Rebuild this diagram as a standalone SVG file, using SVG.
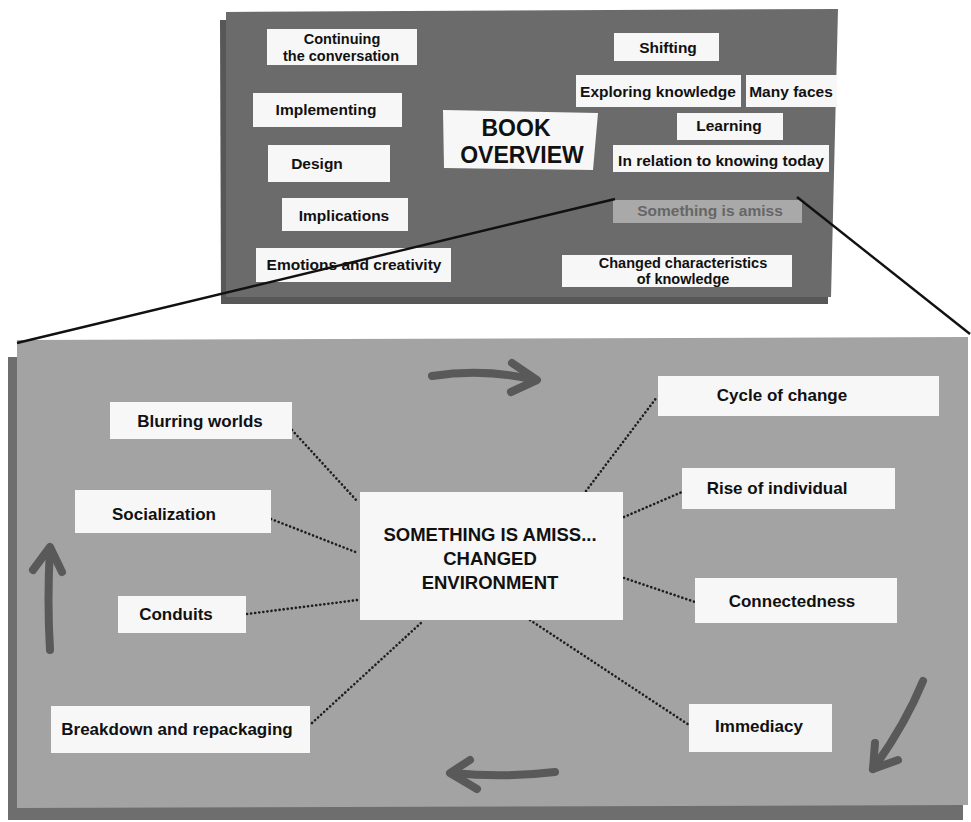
<svg xmlns="http://www.w3.org/2000/svg" width="971" height="822" viewBox="0 0 971 822">
  <style>
    .lbl { fill: #f7f7f7; }
    .t { font-family: "Liberation Sans", Arial, sans-serif; font-weight: bold; fill: #111; text-anchor: middle; }
    .top { font-size: 15.5px; }
    .two { font-size: 14.5px; }
    .low { font-size: 17px; }
    .dots { stroke: #1e1e1e; stroke-width: 2.6; stroke-linecap: round; stroke-dasharray: 0.1 4; fill: none; }
    .cyc { stroke: #595959; stroke-width: 8; stroke-linecap: round; stroke-linejoin: round; fill: none; }
    .zoom { stroke: #111; stroke-width: 2.4; fill: none; }
  </style>

  <rect width="971" height="822" fill="#ffffff"/>

  <!-- overview board -->
  <g id="overview-board">
    <polygon points="220,20 829,22 828,304 221,304" fill="#575757"/>
    <polygon points="226,12 838,9 831,297 226,297" fill="#6b6b6b"/>
  </g>

  <!-- detail board -->
  <g id="detail-board">
    <polygon points="8,357 963,357 963,820 8,820" fill="#6e6e6e"/>
    <polygon points="17,340 968,337 968,805 17,808" fill="#a3a3a3"/>
  </g>

  <!-- overview labels -->
  <g id="n-continuing">
    <rect class="lbl" x="267" y="29" width="150" height="36"/>
    <text class="t two" x="342" y="44">Continuing</text>
    <text class="t two" x="341" y="61">the conversation</text>
  </g>
  <g id="n-implementing">
    <rect class="lbl" x="253" y="93" width="149" height="34"/>
    <text class="t top" x="326" y="115">Implementing</text>
  </g>
  <g id="n-design">
    <rect class="lbl" x="268" y="145" width="122" height="37"/>
    <text class="t top" x="317" y="169">Design</text>
  </g>
  <g id="n-implications">
    <rect class="lbl" x="282" y="198" width="126" height="33"/>
    <text class="t top" x="344" y="221">Implications</text>
  </g>
  <g id="n-emotions">
    <rect class="lbl" x="256" y="248" width="195" height="34"/>
    <text class="t top" x="354" y="270">Emotions and creativity</text>
  </g>
  <g id="n-book">
    <polygon points="443,110 598,113 593,170 444,168" fill="#f7f7f7"/>
    <text class="t" x="516" y="136" font-size="23">BOOK</text>
    <text class="t" x="522" y="163" font-size="23">OVERVIEW</text>
  </g>
  <g id="n-shifting">
    <rect class="lbl" x="614" y="33" width="105" height="28"/>
    <text class="t top" x="668" y="53">Shifting</text>
  </g>
  <g id="n-exploring">
    <rect class="lbl" x="576" y="75" width="165" height="32"/>
    <text class="t top" x="658" y="97">Exploring knowledge</text>
  </g>
  <g id="n-faces">
    <rect class="lbl" x="746" y="75" width="91" height="32"/>
    <text class="t top" x="791" y="97">Many faces</text>
  </g>
  <g id="n-learning">
    <rect class="lbl" x="677" y="113" width="106" height="27"/>
    <text class="t top" x="729" y="131">Learning</text>
  </g>
  <g id="n-relation">
    <rect class="lbl" x="613" y="145" width="216" height="27"/>
    <text class="t top" x="721" y="166">In relation to knowing today</text>
  </g>
  <g id="n-amiss">
    <rect x="613" y="200" width="189" height="23" fill="#a9a9a9"/>
    <text class="t top" x="710" y="216" style="fill:#666666">Something is amiss</text>
  </g>
  <g id="n-characteristics">
    <rect class="lbl" x="562" y="255" width="230" height="32"/>
    <text class="t two" x="683" y="268">Changed characteristics</text>
    <text class="t two" x="683" y="284">of knowledge</text>
  </g>

  <!-- connectors -->
  <g id="connectors">
    <line class="zoom" x1="615" y1="199" x2="17" y2="343"/>
    <line class="zoom" x1="797" y1="197" x2="970" y2="334"/>
    <line class="dots" x1="292" y1="430" x2="358" y2="502"/>
    <line class="dots" x1="271" y1="519" x2="358" y2="553"/>
    <line class="dots" x1="247" y1="614" x2="358" y2="600"/>
    <line class="dots" x1="312" y1="723" x2="422" y2="622"/>
    <line class="dots" x1="586" y1="491" x2="657" y2="397"/>
    <line class="dots" x1="624" y1="517" x2="682" y2="492"/>
    <line class="dots" x1="624" y1="578" x2="695" y2="602"/>
    <line class="dots" x1="530" y1="620" x2="689" y2="725"/>
  </g>

  <!-- cycle arrows -->
  <g id="cycle-arrows">
    <path class="cyc" d="M432,376 Q485,368 535,380"/>
    <path class="cyc" d="M512,363 L537,380 L511,392"/>
    <path class="cyc" d="M923,681 Q905,725 873,769"/>
    <path class="cyc" d="M875,743 L873,769 L898,760"/>
    <path class="cyc" d="M555,772 Q505,778 452,773"/>
    <path class="cyc" d="M470,760 L450,773 L477,789"/>
    <path class="cyc" d="M50,650 Q47,600 50,548"/>
    <path class="cyc" d="M33,570 L50,547 L62,572"/>
  </g>

  <!-- detail labels -->
  <g id="n-center">
    <rect class="lbl" x="360" y="492" width="263" height="128"/>
    <text class="t" x="490" y="541" font-size="18.5">SOMETHING IS AMISS...</text>
    <text class="t" x="490" y="565" font-size="18.5">CHANGED</text>
    <text class="t" x="490" y="589" font-size="18.5">ENVIRONMENT</text>
  </g>
  <g id="n-blurring">
    <rect class="lbl" x="110" y="402" width="182" height="37"/>
    <text class="t low" x="200" y="427">Blurring worlds</text>
  </g>
  <g id="n-socialization">
    <rect class="lbl" x="75" y="490" width="196" height="43"/>
    <text class="t low" x="164" y="520">Socialization</text>
  </g>
  <g id="n-conduits">
    <rect class="lbl" x="118" y="596" width="128" height="37"/>
    <text class="t low" x="176" y="620">Conduits</text>
  </g>
  <g id="n-breakdown">
    <rect class="lbl" x="51" y="706" width="259" height="47"/>
    <text class="t low" x="177" y="735">Breakdown and repackaging</text>
  </g>
  <g id="n-cycle">
    <rect class="lbl" x="658" y="376" width="281" height="40"/>
    <text class="t low" x="782" y="401">Cycle of change</text>
  </g>
  <g id="n-rise">
    <rect class="lbl" x="682" y="468" width="213" height="41"/>
    <text class="t low" x="777" y="494">Rise of individual</text>
  </g>
  <g id="n-connectedness">
    <rect class="lbl" x="695" y="578" width="202" height="45"/>
    <text class="t low" x="792" y="607">Connectedness</text>
  </g>
  <g id="n-immediacy">
    <rect class="lbl" x="689" y="704" width="143" height="48"/>
    <text class="t low" x="759" y="732">Immediacy</text>
  </g>
</svg>
